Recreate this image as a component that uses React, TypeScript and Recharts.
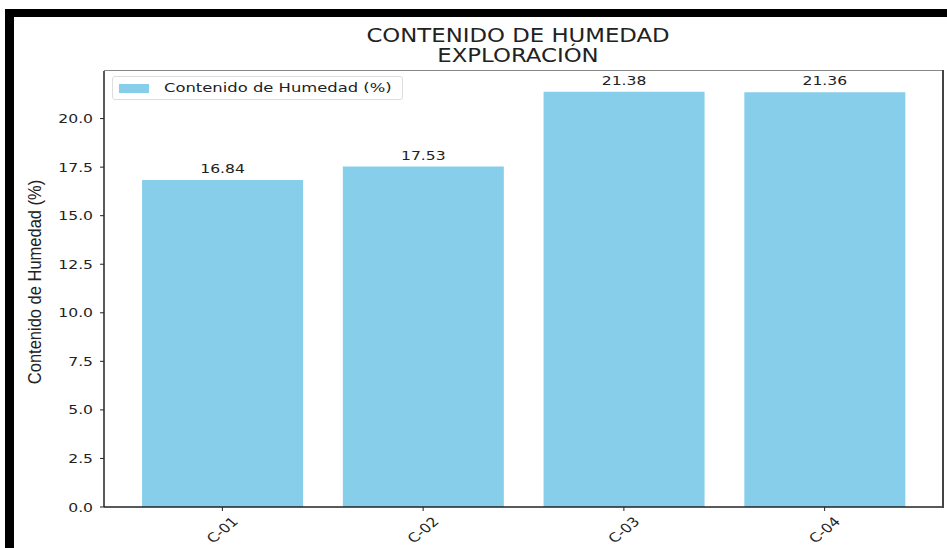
import React from 'react';
import { BarChart, Bar, XAxis, YAxis, LabelList } from 'recharts';

const categories = ['C-01', 'C-02', 'C-03', 'C-04'];
const humedad = [16.84, 17.53, 21.38, 21.36];
const yTicks = [0, 2.5, 5, 7.5, 10, 12.5, 15, 17.5, 20];
const seriesName = 'Contenido de Humedad (%)';
const titleLines = ['CONTENIDO DE HUMEDAD', 'EXPLORACIÓN'];
const yLabel = 'Contenido de Humedad (%)';

const data = categories.map((c, i) => ({ name: c, value: humedad[i] }));

const FONT = '"DejaVu Sans", sans-serif';
const SX = 1.2;

const RotTick = (props: any) => {
  const { x, y, payload } = props;
  return (
    <g transform={`translate(${x},${y + 17}) scale(${SX},1)`}>
      <text transform="rotate(-45)" textAnchor="middle" dominantBaseline="central" fontSize={13} fill="#222" fontFamily={FONT}>
        {payload.value}
      </text>
    </g>
  );
};

const YTick = (props: any) => {
  const { x, y, payload } = props;
  return (
    <g transform={`translate(${x - 5},${y}) scale(${SX},1)`}>
      <text textAnchor="end" dominantBaseline="central" fontSize={13} fill="#222" fontFamily={FONT}>
        {Number(payload.value).toFixed(1)}
      </text>
    </g>
  );
};

const BarLabel = (props: any) => {
  const { x, y, width, value } = props;
  return (
    <g transform={`translate(${Number(x) + Number(width) / 2},${Number(y) - 7}) scale(${SX},1)`}>
      <text textAnchor="middle" fontSize={13} fill="#222" fontFamily={FONT}>
        {Number(value).toFixed(2)}
      </text>
    </g>
  );
};

export default function App() {
  return (
    <div style={{ position: 'absolute', left: 0, top: 0, width: 947, height: 548, background: 'white', overflow: 'hidden' }}>
      <BarChart width={947} height={548} data={data} margin={{ top: 71, right: 4, bottom: 0, left: 44 }} barCategoryGap="10%">
        <XAxis dataKey="name" height={41} padding={{ left: 18, right: 18 }} tick={<RotTick />} tickLine={{ stroke: '#222' }} tickSize={4} axisLine={{ stroke: '#222', strokeWidth: 1.5 }} interval={0} />
        <YAxis width={60} domain={[0, 22.45]} ticks={yTicks} tick={<YTick />} tickLine={{ stroke: '#222' }} tickSize={4} axisLine={{ stroke: '#222', strokeWidth: 1.5 }} allowDataOverflow />
        <Bar dataKey="value" name={seriesName} fill="#87CEEB" isAnimationActive={false}>
          <LabelList dataKey="value" content={<BarLabel />} />
        </Bar>
      </BarChart>
      {/* axes frame top & right */}
      <div style={{ position: 'absolute', left: 104, top: 70, width: 840, height: 1, background: '#888' }} />
      <div style={{ position: 'absolute', left: 942, top: 70, width: 1.5, height: 438, background: '#444' }} />
      {/* legend */}
      <div style={{ position: 'absolute', left: 112, top: 76, border: '1px solid #ddd', borderRadius: 3, background: 'white', width: 291, height: 24, boxSizing: 'border-box' }}>
        <div style={{ position: 'absolute', left: 6, top: 7, width: 30, height: 9, background: '#87CEEB' }} />
        <span style={{ position: 'absolute', left: 51, top: 3, fontFamily: FONT, fontSize: 13, lineHeight: '16px', color: '#222', whiteSpace: 'nowrap', transform: 'scaleX(1.26)', transformOrigin: 'left center' }}>{seriesName}</span>
      </div>
      {/* title */}
      <div style={{ position: 'absolute', left: 318, top: 25, width: 400, textAlign: 'center', fontFamily: FONT, fontSize: 19, lineHeight: '20px', color: '#222', transform: 'scaleX(1.2)', transformOrigin: 'center' }}>
        <div>{titleLines[0]}</div>
        <div>{titleLines[1]}</div>
      </div>
      {/* y label */}
      <svg style={{ position: 'absolute', left: 0, top: 0 }} width={80} height={548}>
        <text x={0} y={0} transform="translate(41,282) scale(1.15,1) rotate(-90)" textAnchor="middle" fontFamily='"Liberation Sans", sans-serif' fontSize={16.5} fill="#222">
          {yLabel}
        </text>
      </svg>
      {/* black border */}
      <div style={{ position: 'absolute', left: 5, top: 9, width: 942, height: 8, background: '#000' }} />
      <div style={{ position: 'absolute', left: 5, top: 9, width: 9, height: 539, background: '#000' }} />
    </div>
  );
}
